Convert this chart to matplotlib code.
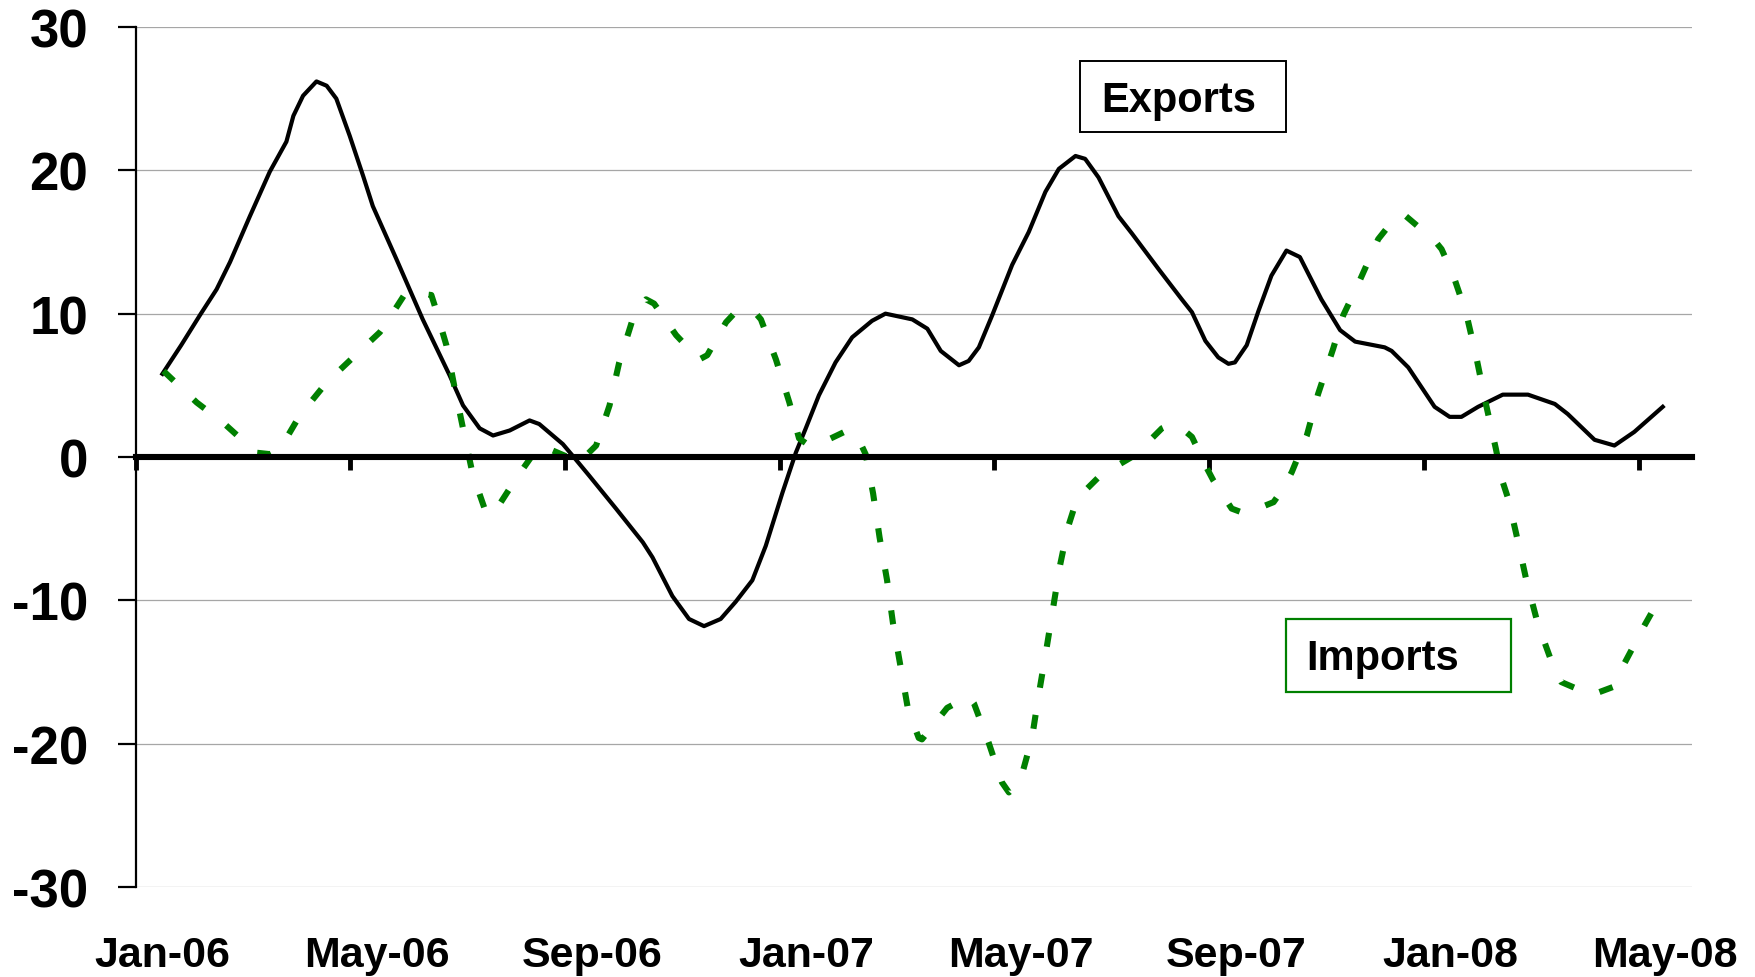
import matplotlib
matplotlib.use('Agg')
import matplotlib.pyplot as plt
from matplotlib.patches import Rectangle
from matplotlib.ticker import FixedLocator

# months after Jan-06 (0 = Jan-06, 28 = May-08), % change
exp_month = [0.0, 0.35, 0.70, 1.01, 1.26, 1.63, 2.0, 2.31, 2.44, 2.62, 2.87, 3.06, 3.24,
             3.49, 3.74, 3.92, 4.36, 4.85, 5.35, 5.6, 5.91, 6.16, 6.47, 6.84, 7.02, 7.46,
             7.64, 7.95, 8.45, 8.95, 9.13, 9.5, 9.81, 10.09, 10.4, 10.68, 10.99, 11.24,
             11.55, 11.8, 11.98, 12.23, 12.54, 12.85, 13.22, 13.47, 13.97, 14.25, 14.5,
             14.84, 15.02, 15.21, 15.46, 15.83, 16.14, 16.45, 16.7, 17.01, 17.19, 17.44,
             17.81, 18.06, 18.56, 18.99, 19.18, 19.43, 19.67, 19.86, 19.98, 20.2, 20.42,
             20.66, 20.94, 21.19, 21.59, 21.94, 22.22, 22.77, 22.9, 23.21, 23.7, 23.98,
             24.2, 24.51, 24.97, 25.44, 25.94, 26.18, 26.68, 27.05, 27.42, 27.95]
exports = [5.8, 7.8, 9.9, 11.7, 13.6, 16.8, 19.9, 22.0, 23.8, 25.2, 26.2, 25.9, 25.0,
           22.4, 19.6, 17.5, 13.8, 9.6, 5.7, 3.6, 2.0, 1.5, 1.85, 2.55, 2.3, 0.9,
           0.1, -1.3, -3.6, -5.95, -7.0, -9.7, -11.3, -11.8, -11.3, -10.1, -8.6, -6.2,
           -2.5, 0.3, 1.95, 4.3, 6.6, 8.35, 9.5, 10.0, 9.6, 8.95, 7.4,
           6.4, 6.7, 7.65, 9.9, 13.4, 15.7, 18.5, 20.1, 21.0, 20.8, 19.5,
           16.8, 15.6, 13.1, 11.0, 10.1, 8.1, 6.95, 6.5, 6.6, 7.8, 10.2,
           12.65, 14.4, 13.95, 11.0, 8.85, 8.05, 7.65, 7.4, 6.25, 3.5, 2.8,
           2.8, 3.5, 4.35, 4.35, 3.7, 3.0, 1.2, 0.8, 1.75, 3.5]

imp_month = [0.02, 0.64, 1.13, 1.75, 2.0, 2.19, 2.56, 3.06, 3.68, 4.05, 4.11, 4.54, 5.01,
             5.07, 5.29, 5.44, 5.6, 5.78, 6.03, 6.16, 6.59, 7.02, 7.21, 7.77, 8.08, 8.33,
             8.51, 8.76, 9.01, 9.16, 9.57, 10.0, 10.15, 10.5, 10.65, 10.99, 11.15, 11.43,
             11.68, 11.86, 12.05, 12.23, 12.76, 12.95, 13.1, 13.24, 13.36, 13.5, 13.61,
             13.75, 13.89, 14.09, 14.15, 14.62, 15.02, 15.12, 15.39, 15.64, 15.77, 15.98,
             16.2, 16.32, 16.46, 16.59, 16.72, 16.87, 17.04, 17.47, 17.63, 18.06, 18.18,
             18.62, 18.8, 18.99, 19.18, 19.46, 19.58, 19.92, 20.17, 20.7, 20.88, 21.04,
             21.32, 21.53, 21.81, 22.0, 22.28, 22.65, 22.99, 23.15, 23.7, 23.83, 24.05,
             24.29, 24.47, 24.65, 24.84, 24.97, 25.07, 25.22, 25.41, 25.62, 25.9, 26.06,
             26.62, 26.77, 27.02, 27.08, 27.42, 27.61, 27.82, 27.91]
imports = [6.0, 3.8, 2.4, 0.3, 0.2, 0.55, 2.9, 5.2, 7.4, 8.7, 9.0, 11.5, 11.3,
           10.6, 7.8, 4.9, 2.0, -1.2, -3.9, -4.0, -1.5, 0.8, 0.55, -0.35, 0.8, 3.6,
           6.6, 9.6, 11.0, 10.7, 8.5, 6.8, 7.1, 9.4, 10.0, 10.3, 9.6, 6.8,
           3.8, 1.3, 0.8, 0.9, 1.85, 1.4, 0.2, -2.55, -5.6, -8.6, -11.6,
           -14.6, -17.6, -19.6, -19.7, -17.5, -16.7, -17.2, -19.9, -22.7, -23.4, -22.6,
           -19.6, -16.7, -13.6, -10.6, -7.6, -4.9, -2.9, -1.3, -0.95, 0.0, 0.35,
           2.0, 2.3, 2.0, 1.4, -0.8, -1.65, -3.6, -3.95, -3.15, -2.2, -1.05,
           1.5, 4.4, 7.55, 9.9, 12.1, 15.2, 16.8, 16.85, 15.1, 14.5, 12.65,
           10.0, 7.1, 3.8, 0.6, -1.75, -2.9, -5.35, -8.6, -11.6, -14.5, -15.7,
           -16.6, -16.4, -16.05, -15.5, -13.1, -11.75, -10.35, -9.8]

label_pos = [0, 4, 8, 12, 16, 20, 24, 28]
labels = ['Jan-06', 'May-06', 'Sep-06', 'Jan-07', 'May-07', 'Sep-07', 'Jan-08', 'May-08']
yticks = [-30, -20, -10, 0, 10, 20, 30]

plt.rcParams['font.family'] = ['Liberation Sans', 'DejaVu Sans']
plt.rcParams['font.weight'] = 'bold'
plt.rcParams['axes.unicode_minus'] = False

fig = plt.figure(figsize=(17.56, 9.78), dpi=100)
ax = fig.add_axes([0.0772, 0.092, 0.8865, 0.8794])

ax.set_xlim(-0.5, 28.5)
ax.set_ylim(-30, 30)

for y in yticks:
    if y != 0:
        ax.axhline(y, color='#a6a6a6', lw=0.9, zorder=0)

ax.plot(exp_month, exports, color='black', lw=3.0, zorder=3)
ax.plot(imp_month, imports, color='#008000', lw=4.4, linestyle=(0, (2.3, 4.5)),
        dash_capstyle='butt', zorder=3)

for s in ['top', 'right']:
    ax.spines[s].set_visible(False)
ax.spines['left'].set_linewidth(1.6)
ax.spines['bottom'].set_position(('data', 0))
ax.spines['bottom'].set_linewidth(4.4)
ax.spines['bottom'].set_zorder(4)

ax.set_yticks(yticks)
ax.set_yticklabels([str(v) for v in yticks])
ax.tick_params(axis='y', direction='out', length=13, width=1.6, pad=21,
               labelsize=38)

ax.xaxis.set_major_locator(FixedLocator(label_pos))
ax.set_xticklabels(labels)
ax.xaxis.set_minor_locator(FixedLocator([p - 0.5 for p in label_pos]))
ax.tick_params(axis='x', which='major', length=0, pad=344, labelsize=31)
ax.tick_params(axis='x', which='minor', direction='out', length=9.5, width=3.5)

ax.add_patch(Rectangle((0.6064, 0.8779), 0.1328, 0.0826, transform=ax.transAxes,
                       fill=False, edgecolor='black', lw=1.4, zorder=5))
ax.text(0.6206, 0.9023, 'Exports', transform=ax.transAxes, fontsize=30,
        fontweight='bold', va='baseline', ha='left', zorder=6)

ax.add_patch(Rectangle((0.7392, 0.2267), 0.1443, 0.0849, transform=ax.transAxes,
                       fill=False, edgecolor='#008000', lw=1.6, zorder=5))
ax.text(0.7521, 0.2535, 'Imports', transform=ax.transAxes, fontsize=30,
        fontweight='bold', va='baseline', ha='left', zorder=6)

fig.savefig('out.png', dpi=100)
